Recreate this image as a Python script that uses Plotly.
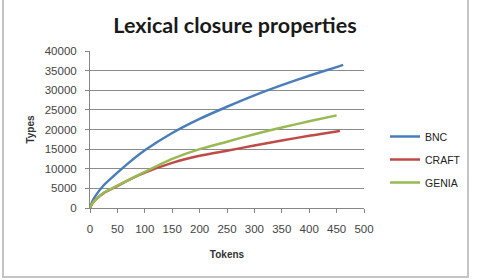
import plotly.graph_objects as go

tokens = [0, 5, 10, 25, 50, 75, 100, 150, 200, 250, 300, 350, 400, 450, 462]
bnc = [0, 1900, 3100, 5800, 9000, 12000, 14700, 19100, 22700, 25800, 28700, 31300, 33700, 35900, 36450]

tokens_craft = [0, 5, 10, 25, 50, 75, 100, 150, 200, 250, 300, 350, 400, 450, 456]
craft = [0, 1300, 2100, 3800, 5600, 7400, 9000, 11500, 13300, 14600, 15900, 17200, 18400, 19500, 19700]

tokens_genia = [0, 5, 10, 25, 50, 75, 100, 150, 200, 250, 300, 350, 400, 450]
genia = [0, 1300, 2100, 3900, 5700, 7500, 9200, 12500, 15000, 16900, 18800, 20500, 22100, 23600]

W, H = 477, 280
L, R, T, B = 90, 113, 51, 72
pw, ph = W - L - R, H - T - B

line_style = dict(width=2.5, shape="spline", smoothing=0.6)

fig = go.Figure()
fig.add_trace(go.Scatter(x=tokens, y=bnc, mode="lines", name="BNC", legendgroup="a",
                         line=dict(color="#4A7EBB", **line_style)))
fig.add_trace(go.Scatter(x=tokens_craft, y=craft, mode="lines", name="CRAFT", legendgroup="b",
                         line=dict(color="#BE4B48", **line_style)))
fig.add_trace(go.Scatter(x=tokens_genia, y=genia, mode="lines", name="GENIA", legendgroup="c",
                         line=dict(color="#98B954", **line_style)))

def px2x(px):
    return (px - L) / pw

def py2y(py):
    return (H - B - py) / ph

fig.add_shape(type="rect", xref="paper", yref="paper",
              x0=px2x(3), x1=px2x(468), y0=py2y(277), y1=py2y(-3),
              line=dict(color="#C4C4C4", width=2), layer="below")

fig.update_layout(
    width=W, height=H,
    margin=dict(l=L, r=R, t=T, b=B),
    paper_bgcolor="white", plot_bgcolor="white",
    title=dict(text="<b>Lexical closure properties</b>", x=235 / W, xanchor="center",
               y=1 - 25 / H, yanchor="middle",
               font=dict(family="Lato", size=21.5, color="#1a1a1a")),
    font=dict(family="Liberation Sans", size=10, color="#333333"),
    showlegend=True,
    legend=dict(xref="container", yref="container", x=385 / W, y=1 - 122 / H,
                xanchor="left", yanchor="top", itemwidth=30, traceorder="grouped",
                font=dict(family="Liberation Sans", size=10.5, color="#222222"),
                tracegroupgap=4, bgcolor="rgba(0,0,0,0)"),
    xaxis=dict(range=[0, 500], tickvals=list(range(0, 501, 50)),
               showgrid=False, zeroline=False, showline=True, linecolor="#868686",
               linewidth=1, ticks="outside", ticklen=4, tickcolor="#868686",
               ticklabelstandoff=6,
               title=dict(text="<b>Tokens</b>", font=dict(size=10), standoff=17),
               tickfont=dict(size=11.5, color="#444444")),
    yaxis=dict(range=[0, 40000], tickvals=list(range(0, 40001, 5000)),
               tickformat="d",
               showgrid=True, gridcolor="#8C8C8C", gridwidth=1, zeroline=False,
               showline=True, linecolor="#868686", linewidth=1,
               ticks="outside", ticklen=4, tickcolor="#868686",
               ticklabelstandoff=6,
               title=dict(text="<b>Types</b>", font=dict(size=10), standoff=8),
               tickfont=dict(size=11.5, color="#444444")),
)

fig.write_html("out.html")
